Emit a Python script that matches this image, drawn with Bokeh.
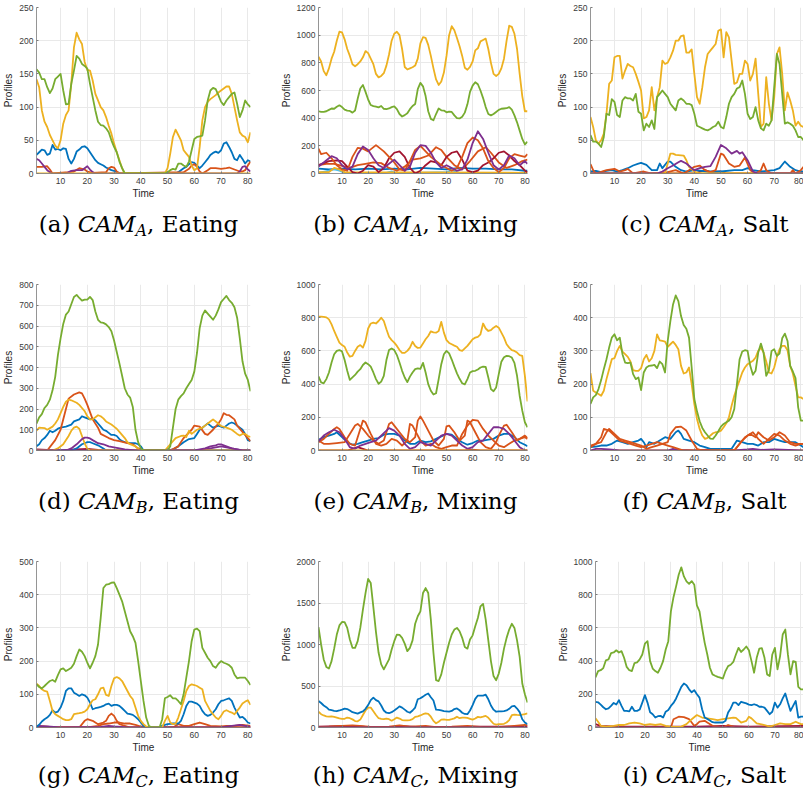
from bokeh.plotting import figure
from bokeh.layouts import column, row
from bokeh.models import Div, FixedTicker, Range1d
from bokeh.embed import file_html
from bokeh.resources import INLINE

# ---------------- colours (MATLAB default order) ----------------
BLUE = "#0072BD"
ORANGE = "#D95319"
YELLOW = "#EDB120"
PURPLE = "#7E2F8E"
GREEN = "#77AC30"
CYAN = "#4DBEEE"
DRED = "#A2142F"

# ---------------- shared axis data ----------------
T = list(range(1, 82))
ZERO_X = [1, 81]
ZERO_Y = [0, 0]
X_TICKS = [10, 20, 30, 40, 50, 60, 70, 80]

# ---------------- (a) CAM_A, Eating ----------------
A_YTICKS = [0, 50, 100, 150, 200, 250]
A_GREEN = [157, 152, 142, 142, 130, 121, 128, 142, 146, 150,
           125, 104, 105, 135, 155, 177, 173, 165, 162, 158,
           135, 115, 95, 78, 73, 72, 68, 62, 50, 40,
           32, 18, 8, 0, 0, 0, 0, 0, 0, 0,
           0, 0, 0, 0, 0, 0, 0, 0, 0, 2,
           5, 7, 6, 15, 15, 12, 10, 18, 35, 52,
           55, 56, 57, 80, 110, 125, 129, 127, 118, 108,
           103, 110, 115, 120, 122, 105, 85, 95, 110, 104,
           100]
A_YELLOW = [142, 130, 95, 78, 70, 58, 50, 42, 38, 50,
            75, 88, 95, 135, 190, 212, 202, 195, 168, 156,
            155, 140, 120, 110, 100, 95, 85, 72, 60, 45,
            32, 20, 8, 0, 0, 0, 0, 0, 0, 0,
            0, 0, 0, 0, 0, 0, 0, 0, 0, 8,
            30, 55, 66, 58, 50, 35, 30, 25, 12, 5,
            8, 40, 80, 100, 108, 112, 115, 118, 122, 125,
            128, 131, 131, 120, 100, 80, 62, 57, 55, 47,
            62]
A_BLUE = [28, 32, 36, 35, 28, 30, 43, 36, 37, 35,
          38, 37, 22, 15, 22, 33, 36, 40, 41, 38,
          32, 26, 20, 16, 14, 12, 9, 7, 5, 4,
          2, 1, 0, 0, 0, 0, 0, 0, 0, 0,
          0, 0, 0, 0, 0, 0, 0, 0, 0, 0,
          0, 0, 0, 2, 5, 8, 10, 14, 17, 16,
          12, 8, 12, 17, 22, 28, 31, 33, 31, 35,
          45, 47, 40, 32, 22, 20, 28, 22, 15, 20,
          18]
A_ORANGE_X = [1, 3, 5, 6, 7, 13, 15, 17, 18, 19, 20, 22, 27, 28, 29, 30, 31, 32, 56, 58,
              59, 60, 61, 62, 63, 65, 66, 68, 70, 72, 73, 75, 77, 78, 79, 80, 81]
A_ORANGE_Y = [10, 10, 11, 6, 0, 2, 3, 8, 7, 6, 3, 1, 2, 8, 10, 9, 3, 0, 2, 7,
              12, 14, 10, 3, 0, 5, 8, 8, 7, 8, 9, 6, 3, 3, 5, 12, 18]
A_PURPLE_X = [1, 2, 3, 4, 5, 6, 7, 12, 14, 16, 18, 19, 20, 21, 22, 23, 76, 77, 78, 79, 80, 81]
A_PURPLE_Y = [22, 20, 15, 10, 5, 2, 0, 0, 4, 5, 5, 8, 11, 6, 2, 0, 0, 3, 10, 11, 6, 3]

# ---------------- (b) CAM_A, Mixing ----------------
B_YTICKS = [0, 200, 400, 600, 800, 1000, 1200]
B_YELLOW = [845, 810, 740, 710, 760, 830, 880, 960, 1025, 1020,
            970, 900, 850, 790, 775, 790, 810, 840, 885, 870,
            830, 790, 720, 695, 705, 725, 780, 860, 960, 1010,
            1025, 1000, 900, 770, 752, 760, 768, 780, 830, 940,
            985, 980, 930, 850, 760, 680, 640, 665, 730, 850,
            1000, 1065, 1035, 980, 920, 850, 765, 750, 770, 810,
            890, 905, 955, 965, 975, 900, 800, 720, 705, 720,
            760, 830, 960, 1068, 1060, 1010, 900, 720, 560, 450,
            450]
B_GREEN = [450, 445, 446, 450, 460, 470, 468, 482, 493, 480,
           462, 455, 452, 440, 455, 540, 615, 640, 590, 535,
           495, 487, 483, 478, 488, 468, 466, 470, 480, 485,
           465, 430, 412, 422, 435, 465, 488, 502, 610, 655,
           630, 560, 450, 395, 385, 430, 470, 457, 455, 442,
           448, 445, 420, 400, 398, 410, 440, 500, 590, 635,
           660, 645, 600, 545, 480, 430, 420, 430, 445, 460,
           468, 470, 472, 480, 462, 420, 370, 310, 250, 210,
           230]
B_PURPLE_X = [1, 3, 5, 6, 8, 10, 12, 14, 16, 18, 20, 22, 24, 26, 28, 30, 32, 34, 36, 38,
              40, 42, 44, 46, 48, 50, 52, 54, 56, 58, 60, 62, 64, 66, 68, 70, 72, 74, 76, 78,
              80, 81]
B_PURPLE_Y = [50, 80, 110, 125, 110, 60, 30, 50, 140, 195, 170, 110, 60, 40, 70, 100, 60, 20, 50, 150,
              205, 200, 150, 80, 40, 60, 40, 20, 30, 100, 220, 305, 250, 150, 60, 30, 60, 130, 110, 60,
              90, 70]
B_DRED_X = [1, 3, 5, 8, 10, 12, 14, 16, 18, 20, 22, 24, 26, 28, 30, 32, 34, 36, 38, 40,
            42, 44, 46, 48, 50, 52, 54, 56, 58, 60, 62, 64, 66, 68, 70, 72, 74, 76, 78, 80, 81]
B_DRED_Y = [60, 75, 90, 95, 90, 50, 10, 0, 20, 60, 50, 10, 40, 110, 150, 160, 120, 40, 0, 20,
            60, 90, 80, 60, 120, 150, 160, 100, 20, 10, 20, 60, 80, 110, 150, 160, 130, 90, 60, 20, 10]
B_ORANGE1_X = [1, 2, 4, 6, 8, 10, 12, 14, 16, 18, 20, 23, 26, 28, 30, 32, 34, 36, 38, 40,
               42, 44, 46, 48, 50, 52, 54, 56, 58, 60, 62, 64, 66, 68, 70, 72, 74, 76, 78, 80, 81]
B_ORANGE1_Y = [180, 140, 150, 110, 60, 30, 20, 120, 185, 180, 160, 205, 160, 120, 80, 30, 20, 90, 170, 200,
               160, 120, 90, 60, 40, 20, 40, 120, 220, 260, 240, 180, 90, 40, 10, 40, 110, 140, 130, 120, 140]
B_ORANGE2_X = [1, 4, 7, 10, 13, 16, 19, 22, 25, 28, 31, 34, 37, 40, 43, 46, 48, 50, 53, 56,
               59, 62, 65, 67, 70, 73, 76, 79, 81]
B_ORANGE2_Y = [60, 70, 70, 55, 40, 60, 70, 80, 75, 40, 20, 50, 100, 110, 130, 190, 170, 120, 60, 30,
               90, 160, 190, 150, 80, 40, 60, 90, 100]
B_BLUE_X = [1, 5, 10, 15, 20, 25, 30, 35, 40, 45, 50, 55, 60, 65, 70, 75, 80, 81]
B_BLUE_Y = [35, 30, 35, 30, 35, 30, 35, 30, 40, 35, 30, 40, 35, 35, 30, 30, 20, 20]
B_CYAN_X = [1, 5, 7, 9, 11, 26, 29, 31, 50, 52, 54, 56, 60, 81]
B_CYAN_Y = [5, 20, 30, 20, 5, 0, 15, 0, 10, 25, 10, 0, 5, 0]
B_YELLOW2_X = [1, 5, 7, 9, 11, 81]
B_YELLOW2_Y = [10, 10, 40, 30, 10, 5]

# ---------------- (c) CAM_A, Salt ----------------
C_YTICKS = [0, 50, 100, 150, 200, 250]
C_YELLOW = [85, 70, 50, 45, 50, 60, 90, 135, 140, 175,
            177, 177, 143, 155, 165, 162, 160, 150, 138, 125,
            83, 85, 95, 130, 95, 115, 130, 170, 165, 167,
            175, 185, 200, 200, 207, 208, 182, 182, 187, 150,
            115, 105, 130, 160, 180, 185, 190, 195, 215, 217,
            175, 213, 205, 170, 135, 137, 150, 150, 170, 165,
            140, 150, 173, 120, 70, 75, 145, 105, 80, 115,
            180, 190, 150, 95, 122, 110, 95, 72, 78, 72,
            70]
C_GREEN = [58, 48, 48, 45, 40, 55, 90, 88, 112, 108,
           88, 85, 110, 115, 113, 113, 110, 120, 93, 90,
           65, 75, 70, 80, 67, 115, 120, 125, 120, 115,
           105, 100, 95, 110, 113, 110, 105, 105, 103, 90,
           72, 70, 68, 66, 65, 67, 70, 72, 78, 70,
           68, 85, 105, 115, 120, 128, 130, 140, 120, 90,
           82, 85, 100, 80, 68, 65, 75, 72, 80, 130,
           180, 165, 120, 75, 77, 75, 72, 65, 55, 55,
           50]
C_PURPLE_X = [1, 26, 28, 30, 32, 34, 35, 37, 39, 40, 42, 44, 46, 48, 50, 52, 54, 56, 57, 58,
              60, 62, 64, 81]
C_PURPLE_Y = [0, 0, 3, 8, 12, 17, 19, 15, 8, 5, 8, 10, 11, 25, 43, 38, 30, 34, 30, 32,
              20, 3, 0, 0]
C_BLUE_X = [1, 3, 5, 7, 9, 11, 13, 15, 17, 19, 20, 22, 24, 26, 27, 28, 30, 31, 33, 35,
            37, 40, 45, 50, 55, 58, 60, 62, 65, 70, 72, 74, 76, 78, 80, 81]
C_BLUE_Y = [3, 4, 2, 4, 5, 3, 5, 8, 12, 15, 16, 13, 5, 5, 15, 8, 18, 18, 10, 5,
            3, 5, 3, 3, 5, 5, 8, 5, 3, 5, 8, 18, 10, 5, 3, 3]
C_YELLOW2_X = [1, 29, 30, 31, 32, 33, 36, 37, 38, 40, 42, 81]
C_YELLOW2_Y = [0, 0, 15, 30, 30, 28, 27, 20, 10, 3, 0, 0]
C_ORANGE_X = [1, 2, 3, 7, 10, 12, 14, 15, 17, 21, 24, 30, 33, 36, 38, 40, 42, 44, 46, 48,
              50, 51, 53, 55, 57, 59, 61, 63, 65, 66, 67, 69, 76, 77, 78, 80, 81]
C_ORANGE_Y = [14, 5, 0, 5, 7, 3, 5, 7, 0, 3, 0, 2, 5, 0, 5, 10, 12, 5, 2, 5,
              30, 28, 15, 10, 12, 24, 5, 0, 5, 15, 5, 0, 0, 5, 0, 5, 10]
C_DRED_X = [1, 40, 44, 46, 50, 52, 81]
C_DRED_Y = [0, 0, 5, 2, 3, 0, 0]

# ---------------- (d) CAM_B, Eating ----------------
D_YTICKS = [0, 100, 200, 300, 400, 500, 600, 700, 800]
D_GREEN = [130, 160, 175, 205, 220, 245, 290, 355, 460, 540,
           610, 655, 670, 705, 740, 750, 735, 722, 727, 727,
           740, 725, 670, 630, 617, 615, 608, 595, 575, 530,
           475, 420, 360, 300, 270, 255, 210, 100, 40, 10,
           0, 0, 0, 0, 0, 0, 0, 0, 0, 0,
           20, 110, 200, 245, 262, 275, 300, 320, 340, 380,
           470, 590, 650, 675, 660, 645, 630, 650, 680, 715,
           730, 745, 725, 712, 690, 640, 540, 430, 370, 340,
           285]
D_ORANGE_X = [1, 5, 8, 10, 12, 13, 15, 17, 18, 19, 20, 21, 22, 24, 25, 28, 30, 32, 35, 37,
              38, 39, 40, 41, 51, 54, 56, 59, 60, 61, 62, 64, 65, 67, 69, 70, 71, 72, 73, 75,
              76, 78, 80, 81]
D_ORANGE_Y = [0, 0, 50, 100, 200, 250, 270, 280, 275, 250, 220, 185, 150, 110, 80, 60, 50, 45, 35, 30,
              20, 10, 5, 0, 0, 20, 60, 100, 120, 118, 115, 80, 75, 100, 130, 150, 180, 172, 170, 150,
              120, 90, 60, 45]
D_YELLOW_X = [1, 2, 4, 5, 7, 8, 9, 10, 11, 12, 13, 14, 16, 17, 18, 19, 20, 21, 22, 24,
              25, 26, 27, 29, 30, 31, 32, 34, 35, 36, 38, 39, 40, 49, 51, 53, 55, 56, 57, 58,
              59, 61, 63, 64, 66, 67, 68, 70, 72, 73, 74, 76, 77, 78, 79, 80, 81]
D_YELLOW_Y = [95, 110, 108, 100, 115, 130, 150, 180, 210, 235, 245, 242, 230, 220, 205, 190, 165, 150, 150, 170,
              165, 155, 140, 125, 115, 105, 90, 60, 40, 30, 20, 8, 0, 0, 30, 60, 70, 72, 65, 95,
              80, 100, 110, 120, 140, 150, 140, 118, 110, 105, 100, 80, 72, 80, 80, 70, 65]
D_YELLOW2_X = [1, 7, 9, 11, 13, 14, 15, 16, 17, 18, 19, 20, 21, 81]
D_YELLOW2_Y = [0, 0, 10, 30, 70, 95, 110, 115, 105, 70, 35, 8, 0, 0]
D_BLUE_X = [1, 2, 3, 4, 5, 6, 7, 8, 9, 10, 12, 14, 15, 16, 17, 18, 19, 20, 21, 22,
            23, 24, 25, 26, 27, 28, 29, 30, 31, 32, 33, 34, 36, 38, 39, 40, 41, 50, 52, 54,
            56, 58, 60, 61, 62, 63, 64, 65, 66, 67, 68, 69, 70, 71, 72, 73, 74, 75, 76, 77,
            78, 79, 80, 81]
D_BLUE_Y = [20, 30, 50, 60, 75, 95, 88, 95, 105, 110, 115, 125, 140, 145, 150, 165, 160, 155, 150, 155,
            145, 130, 115, 100, 95, 85, 75, 75, 70, 55, 45, 40, 35, 35, 30, 20, 0, 0, 5, 20,
            40, 55, 60, 80, 100, 110, 120, 130, 120, 110, 115, 120, 115, 110, 120, 130, 135, 130, 120, 110,
            100, 80, 50, 45]
D_BLUE2_X = [1, 14, 16, 18, 19, 20, 21, 22, 24, 26, 27, 81]
D_BLUE2_Y = [0, 0, 10, 30, 35, 40, 40, 35, 25, 10, 0, 0]
D_PURPLE_X = [1, 12, 14, 16, 18, 19, 20, 21, 22, 24, 26, 28, 30, 32, 34, 36, 38, 60, 62, 64,
              66, 68, 69, 70, 71, 72, 74, 76, 78, 81]
D_PURPLE_Y = [0, 0, 10, 30, 55, 62, 62, 58, 50, 35, 30, 20, 15, 10, 5, 3, 0, 0, 5, 10,
              20, 25, 30, 30, 25, 20, 10, 5, 0, 0]
D_PURPLE2_X = [1, 62, 66, 70, 72, 76, 78, 81]
D_PURPLE2_Y = [0, 0, 10, 20, 15, 5, 0, 0]
D_DRED_X = [1, 5, 10, 16, 20, 24, 28, 81]
D_DRED_Y = [5, 3, 0, 5, 8, 3, 0, 0]

# ---------------- (e) CAM_B, Mixing ----------------
E_YTICKS = [0, 200, 400, 600, 800, 1000]
E_YELLOW = [807, 806, 805, 802, 790, 760, 720, 685, 650, 635,
            625, 590, 565, 570, 600, 625, 635, 620, 660, 735,
            765, 770, 765, 780, 800, 780, 730, 685, 665, 650,
            630, 605, 588, 588, 600, 620, 655, 630, 618, 620,
            645, 670, 690, 718, 712, 710, 720, 775, 710, 665,
            648, 640, 632, 625, 605, 600, 615, 630, 650, 670,
            680, 685, 700, 765, 735, 720, 725, 740, 750, 740,
            710, 680, 640, 620, 605, 600, 590, 575, 570, 450,
            295]
E_GREEN = [446, 410, 405, 430, 470, 530, 580, 600, 605, 597,
           545, 480, 425, 440, 455, 475, 490, 515, 530, 520,
           505, 470, 430, 402, 415, 450, 545, 605, 615, 605,
           575, 530, 480, 440, 412, 445, 470, 490, 495, 492,
           528, 470, 400, 360, 337, 345, 430, 520, 580, 600,
           585, 548, 505, 465, 432, 405, 398, 430, 470, 478,
           480, 488, 500, 505, 503, 440, 370, 357, 380, 460,
           535, 562, 570, 568, 560, 528, 450, 330, 240, 170,
           140]
E_ORANGE1_X = [1, 3, 5, 8, 11, 13, 15, 16, 18, 20, 22, 24, 26, 27, 28, 29, 30, 32, 34, 36,
               38, 39, 40, 41, 43, 45, 47, 49, 50, 51, 53, 55, 57, 58, 59, 61, 63, 65, 67, 69,
               70, 72, 73, 75, 77, 79, 80, 81]
E_ORANGE1_Y = [60, 40, 40, 45, 50, 100, 150, 160, 130, 90, 60, 40, 60, 110, 160, 170, 150, 110, 70, 50,
               80, 180, 205, 180, 120, 60, 30, 70, 145, 150, 110, 60, 90, 180, 170, 110, 50, 20, 10, 50,
               90, 150, 155, 110, 60, 80, 90, 75]
E_ORANGE2_X = [1, 3, 5, 7, 8, 9, 11, 13, 15, 17, 18, 19, 21, 23, 25, 27, 29, 31, 33, 35,
               36, 37, 38, 40, 42, 44, 46, 48, 50, 52, 54, 56, 58, 60, 62, 64, 66, 68, 70, 72,
               74, 76, 78, 80, 81]
E_ORANGE2_Y = [50, 70, 100, 130, 140, 130, 80, 40, 30, 130, 180, 170, 100, 40, 30, 40, 70, 60, 30, 60,
               160, 150, 120, 60, 30, 40, 20, 10, 20, 30, 30, 100, 150, 185, 180, 130, 90, 60, 30, 20,
               40, 60, 70, 80, 70]
E_BLUE_X = [1, 3, 5, 7, 8, 10, 12, 14, 16, 18, 20, 22, 24, 26, 28, 30, 32, 34, 36, 38,
            40, 42, 44, 46, 48, 50, 52, 54, 56, 58, 60, 62, 64, 66, 68, 70, 72, 74, 76, 78,
            80, 81]
E_BLUE_Y = [65, 80, 90, 100, 110, 80, 50, 35, 40, 50, 60, 70, 75, 95, 100, 100, 90, 60, 40, 40,
            60, 50, 55, 70, 85, 100, 95, 70, 50, 35, 45, 60, 60, 65, 70, 90, 100, 100, 80, 50,
            35, 25]
E_PURPLE_X = [1, 3, 5, 7, 9, 11, 13, 15, 17, 19, 21, 23, 25, 27, 28, 30, 32, 34, 36, 38,
              40, 42, 44, 46, 48, 50, 52, 54, 56, 58, 60, 62, 64, 66, 68, 70, 72, 74, 76, 78,
              80, 81]
E_PURPLE_Y = [55, 90, 110, 125, 110, 70, 20, 10, 30, 40, 50, 60, 90, 120, 135, 120, 90, 40, 10, 20,
              50, 40, 30, 60, 90, 100, 90, 60, 30, 10, 20, 50, 60, 100, 140, 140, 130, 100, 60, 20,
              0, 0]
E_DRED_X = [1, 12, 14, 16, 18, 20, 57, 59, 61, 63, 81]
E_DRED_Y = [0, 0, 10, 20, 10, 0, 0, 5, 3, 0, 0]

# ---------------- (f) CAM_B, Salt ----------------
F_YTICKS = [0, 100, 200, 300, 400, 500]
F_GREEN = [140, 160, 167, 185, 212, 245, 275, 310, 340, 350,
           332, 340, 290, 265, 263, 265, 230, 215, 220, 182,
           235, 250, 255, 256, 258, 248, 268, 260, 235, 330,
           390, 440, 467, 450, 405, 378, 367, 340, 250, 155,
           118, 88, 68, 55, 45, 36, 35, 45, 58, 72,
           80, 85, 90, 100, 125, 200, 275, 298, 302, 300,
           255, 228, 240, 295, 322, 295, 225, 242, 300, 305,
           285, 292, 338, 352, 330, 255, 238, 218, 130, 90,
           90]
F_YELLOW = [233, 180, 175, 170, 165, 180, 215, 245, 275, 278,
            300, 315, 298, 290, 282, 268, 242, 240, 240, 248,
            275, 288, 268, 278, 300, 350, 332, 330, 328, 312,
            320, 328, 318, 305, 255, 232, 235, 250, 200, 140,
            95, 65, 45, 35, 38, 45, 52, 55, 56, 60,
            70, 82, 100, 135, 165, 190, 212, 235, 250, 260,
            265, 270, 280, 300, 310, 295, 268, 235, 232, 250,
            282, 305, 315, 315, 302, 255, 232, 195, 160, 160,
            155]
F_ORANGE1_X = [1, 3, 5, 7, 8, 10, 12, 14, 16, 18, 20, 22, 24, 26, 28, 30, 31, 33, 35, 37,
               39, 41, 43, 55, 57, 59, 61, 63, 64, 66, 68, 70, 72, 74, 76, 78, 80, 81]
F_ORANGE1_Y = [10, 20, 25, 55, 65, 50, 35, 30, 25, 20, 15, 5, 10, 15, 20, 25, 50, 70, 72, 60,
               30, 5, 0, 0, 20, 40, 50, 40, 55, 40, 30, 40, 55, 45, 25, 20, 20, 20]
F_ORANGE2_X = [1, 3, 5, 6, 8, 10, 12, 14, 16, 18, 20, 22, 24, 26, 28, 30, 32, 34, 36, 55,
               58, 60, 62, 64, 66, 68, 70, 72, 74, 76, 78, 80, 81]
F_ORANGE2_Y = [15, 20, 40, 65, 60, 45, 30, 25, 20, 15, 10, 15, 20, 25, 20, 15, 10, 5, 0, 0,
               30, 45, 55, 35, 20, 35, 50, 45, 30, 20, 15, 20, 20]
F_BLUE_X = [1, 3, 5, 7, 9, 11, 13, 15, 17, 19, 20, 21, 22, 23, 25, 27, 29, 31, 33, 34,
            35, 36, 38, 40, 42, 44, 46, 48, 50, 52, 54, 56, 58, 60, 62, 64, 66, 68, 70, 72,
            74, 76, 78, 80, 81]
F_BLUE_Y = [10, 12, 15, 15, 20, 30, 25, 20, 25, 30, 35, 25, 10, 25, 20, 30, 40, 35, 55, 60,
            50, 35, 30, 25, 15, 10, 5, 5, 5, 5, 5, 30, 25, 20, 20, 15, 25, 25, 35, 30,
            25, 25, 25, 15, 10]
F_PURPLE_X = [1, 3, 5, 8, 12, 30, 32, 34, 40, 50, 52, 55, 60, 62, 65, 70, 81]
F_PURPLE_Y = [0, 5, 5, 3, 0, 0, 5, 2, 0, 5, 3, 0, 3, 5, 2, 3, 0]

# ---------------- (g) CAM_C, Eating ----------------
G_YTICKS = [0, 100, 200, 300, 400, 500]
G_GREEN = [130, 122, 118, 125, 133, 140, 143, 138, 158, 175,
           178, 170, 175, 180, 192, 215, 235, 228, 215, 195,
           178, 195, 215, 250, 330, 420, 430, 432, 436, 437,
           420, 400, 380, 350, 320, 290, 275, 255, 200, 140,
           80, 30, 5, 0, 0, 0, 0, 25, 88, 92,
           97, 88, 88, 80, 70, 100, 150, 200, 260, 295,
           298, 290, 240, 225, 210, 200, 185, 180, 192, 200,
           195, 192, 188, 180, 160, 148, 150, 150, 150, 140,
           128]
G_YELLOW = [132, 125, 115, 110, 108, 80, 50, 40, 35, 30,
            25, 22, 22, 25, 40, 42, 43, 45, 48, 55,
            70, 82, 85, 100, 118, 120, 98, 95, 125, 148,
            152, 148, 140, 125, 110, 95, 85, 60, 35, 20,
            10, 3, 0, 0, 0, 0, 0, 0, 20, 35,
            15, 10, 12, 30, 55, 80, 110, 125, 130, 128,
            125, 120, 115, 80, 65, 50, 40, 30, 25, 35,
            48, 52, 48, 45, 40, 50, 60, 72, 78, 82,
            68]
G_BLUE = [2, 8, 18, 25, 30, 38, 52, 45, 48, 60,
          80, 110, 118, 118, 105, 100, 95, 100, 97, 90,
          75, 55, 58, 60, 62, 65, 70, 72, 65, 68,
          68, 65, 58, 50, 42, 40, 38, 32, 25, 15,
          5, 0, 0, 0, 0, 0, 0, 5, 8, 10,
          11, 12, 12, 12, 20, 40, 65, 78, 78, 75,
          72, 65, 50, 40, 35, 38, 45, 55, 70, 80,
          82, 85, 88, 80, 60, 45, 30, 32, 25, 15,
          12]
G_ORANGE1_X = [1, 4, 8, 17, 19, 20, 22, 24, 26, 27, 28, 29, 30, 31, 32, 34, 36, 52, 54, 56,
               58, 60, 62, 64, 66, 70, 72, 75, 78, 81]
G_ORANGE1_Y = [5, 3, 0, 0, 20, 25, 20, 10, 15, 20, 35, 42, 35, 20, 10, 5, 0, 0, 10, 5,
               5, 10, 15, 10, 5, 3, 5, 5, 8, 5]
G_ORANGE2_X = [1, 20, 24, 26, 28, 30, 32, 34, 36, 38, 40, 42, 81]
G_ORANGE2_Y = [0, 0, 5, 10, 12, 15, 15, 12, 12, 8, 3, 0, 0]
G_PURPLE_X = [1, 5, 10, 25, 28, 30, 35, 70, 74, 77, 79, 81]
G_PURPLE_Y = [5, 3, 0, 2, 5, 3, 0, 0, 5, 8, 5, 2]

# ---------------- (h) CAM_C, Mixing ----------------
H_YTICKS = [0, 500, 1000, 1500, 2000]
H_GREEN = [1209, 1000, 820, 730, 710, 800, 950, 1120, 1230, 1272,
           1270, 1200, 1060, 960, 960, 1040, 1200, 1420, 1620, 1790,
           1740, 1450, 1150, 900, 760, 700, 760, 820, 940, 1040,
           1120, 1115, 1080, 1010, 920, 960, 1050, 1250, 1340, 1400,
           1620, 1680, 1620, 1300, 900, 570, 560, 640, 780, 900,
           1020, 1120, 1180, 1200, 1160, 1080, 970, 950, 1060, 1110,
           1220, 1320, 1460, 1490, 1300, 1050, 800, 620, 570, 650,
           780, 950, 1080, 1180, 1250, 1200, 1050, 850, 530, 400,
           300]
H_BLUE = [320, 295, 265, 245, 215, 208, 200, 196, 205, 215,
          228, 222, 205, 185, 177, 168, 182, 195, 225, 270,
          330, 360, 330, 315, 265, 205, 178, 172, 185, 205,
          228, 255, 240, 215, 190, 178, 205, 240, 340, 352,
          372, 395, 410, 365, 325, 215, 212, 205, 198, 195,
          192, 200, 222, 230, 208, 178, 163, 160, 205, 270,
          345, 385, 385, 385, 395, 340, 265, 215, 190, 195,
          195, 197, 205, 225, 255, 260, 228, 185, 100, 60,
          40]
H_YELLOW = [190, 160, 145, 135, 130, 133, 128, 120, 110, 105,
            105, 120, 112, 98, 78, 75, 95, 150, 205, 240,
            240, 195, 150, 112, 105, 100, 108, 100, 82, 100,
            120, 108, 90, 86, 85, 90, 100, 128, 135, 145,
            160, 170, 165, 130, 80, 50, 70, 95, 98, 92,
            92, 100, 110, 130, 112, 118, 120, 115, 105, 95,
            108, 128, 122, 130, 140, 118, 80, 45, 35, 40,
            40, 45, 60, 90, 148, 155, 152, 150, 155, 160,
            170]
H_ORANGE_X = [1, 5, 10, 14, 18, 22, 28, 32, 36, 42, 46, 52, 58, 64, 70, 76, 80, 81]
H_ORANGE_Y = [5, 10, 20, 25, 15, 5, 10, 25, 10, 20, 5, 10, 20, 5, 5, 20, 30, 25]
H_DRED_X = [1, 8, 12, 16, 20, 30, 33, 40, 50, 60, 75, 78, 81]
H_DRED_Y = [10, 15, 20, 15, 5, 5, 15, 5, 5, 10, 10, 20, 15]

# ---------------- (i) CAM_C, Salt ----------------
I_YTICKS = [0, 200, 400, 600, 800, 1000]
I_GREEN = [301, 340, 345, 358, 405, 410, 448, 452, 465, 452,
           460, 420, 365, 345, 340, 388, 392, 410, 440, 505,
           520, 400, 355, 340, 330, 360, 400, 470, 520, 700,
           785, 850, 920, 965, 910, 880, 865, 882, 860, 735,
           700, 600, 510, 440, 360, 320, 312, 305, 300, 295,
           340, 370, 378, 395, 440, 480, 455, 470, 488, 465,
           400, 330, 420, 475, 478, 420, 320, 310, 440, 480,
           350, 430, 560, 590, 440, 320, 400, 395, 245, 230,
           230]
I_BLUE = [155, 152, 138, 122, 110, 115, 130, 148, 138, 165,
          130, 100, 100, 97, 125, 100, 100, 108, 150, 195,
          150, 92, 80, 60, 68, 70, 60, 95, 105, 130,
          148, 175, 210, 245, 265, 255, 230, 212, 225, 200,
          180, 110, 60, 52, 42, 32, 30, 30, 30, 30,
          40, 90, 115, 150, 150, 135, 155, 150, 145, 138,
          135, 140, 135, 125, 125, 120, 100, 80, 95, 150,
          120, 140, 175, 205, 150, 100, 130, 160, 60, 65,
          65]
I_YELLOW_X = [1, 2, 3, 5, 8, 10, 12, 14, 16, 18, 20, 22, 24, 26, 28, 30, 32, 34, 36, 38,
              40, 42, 44, 46, 48, 50, 52, 54, 55, 57, 59, 60, 61, 63, 66, 68, 70, 72, 74, 76,
              78, 80, 81]
I_YELLOW_Y = [55, 35, 10, 5, 10, 15, 15, 25, 30, 25, 15, 20, 15, 20, 10, 5, 3, 5, 20, 50,
              75, 60, 55, 50, 45, 50, 55, 60, 58, 30, 40, 65, 55, 25, 15, 5, 15, 25, 20, 20,
              35, 20, 20]
I_ORANGE_X = [1, 30, 31, 33, 35, 37, 38, 39, 40, 41, 43, 44, 46, 48, 50, 52, 53, 55, 81]
I_ORANGE_Y = [0, 0, 50, 65, 62, 50, 30, 10, 20, 35, 40, 30, 10, 5, 0, 15, 10, 0, 0]
I_DRED_X = [1, 3, 10, 40, 50, 60, 81]
I_DRED_Y = [20, 10, 5, 5, 10, 5, 10]

# ---------------- captions ----------------
CAPTIONS = [("a", "A", "Eating"), ("b", "A", "Mixing"), ("c", "A", "Salt"),
            ("d", "B", "Eating"), ("e", "B", "Mixing"), ("f", "B", "Salt"),
            ("g", "C", "Eating"), ("h", "C", "Mixing"), ("i", "C", "Salt")]

PANELS = [
    (A_YTICKS, [(BLUE, T, A_BLUE), (ORANGE, A_ORANGE_X, A_ORANGE_Y), (PURPLE, A_PURPLE_X, A_PURPLE_Y),
                (YELLOW, ZERO_X, ZERO_Y), (YELLOW, T, A_YELLOW), (GREEN, T, A_GREEN)]),
    (B_YTICKS, [(BLUE, B_BLUE_X, B_BLUE_Y), (CYAN, B_CYAN_X, B_CYAN_Y), (YELLOW, B_YELLOW2_X, B_YELLOW2_Y),
                (ORANGE, B_ORANGE2_X, B_ORANGE2_Y), (DRED, B_DRED_X, B_DRED_Y),
                (ORANGE, B_ORANGE1_X, B_ORANGE1_Y), (PURPLE, B_PURPLE_X, B_PURPLE_Y),
                (YELLOW, T, B_YELLOW), (GREEN, T, B_GREEN)]),
    (C_YTICKS, [(DRED, C_DRED_X, C_DRED_Y), (YELLOW, ZERO_X, ZERO_Y), (BLUE, C_BLUE_X, C_BLUE_Y),
                (ORANGE, C_ORANGE_X, C_ORANGE_Y), (YELLOW, C_YELLOW2_X, C_YELLOW2_Y),
                (PURPLE, C_PURPLE_X, C_PURPLE_Y), (YELLOW, T, C_YELLOW), (GREEN, T, C_GREEN)]),
    (D_YTICKS, [(DRED, D_DRED_X, D_DRED_Y), (BLUE, D_BLUE2_X, D_BLUE2_Y), (PURPLE, D_PURPLE2_X, D_PURPLE2_Y),
                (BLUE, D_BLUE_X, D_BLUE_Y), (ORANGE, D_ORANGE_X, D_ORANGE_Y),
                (YELLOW, D_YELLOW2_X, D_YELLOW2_Y), (YELLOW, D_YELLOW_X, D_YELLOW_Y),
                (PURPLE, D_PURPLE_X, D_PURPLE_Y), (GREEN, T, D_GREEN)]),
    (E_YTICKS, [(DRED, E_DRED_X, E_DRED_Y), (BLUE, E_BLUE_X, E_BLUE_Y), (ORANGE, E_ORANGE1_X, E_ORANGE1_Y),
                (ORANGE, E_ORANGE2_X, E_ORANGE2_Y), (PURPLE, E_PURPLE_X, E_PURPLE_Y),
                (YELLOW, ZERO_X, ZERO_Y), (YELLOW, T, E_YELLOW), (GREEN, T, E_GREEN)]),
    (F_YTICKS, [(YELLOW, ZERO_X, ZERO_Y), (PURPLE, F_PURPLE_X, F_PURPLE_Y), (BLUE, F_BLUE_X, F_BLUE_Y),
                (ORANGE, F_ORANGE2_X, F_ORANGE2_Y), (ORANGE, F_ORANGE1_X, F_ORANGE1_Y),
                (YELLOW, T, F_YELLOW), (GREEN, T, F_GREEN)]),
    (G_YTICKS, [(DRED, ZERO_X, ZERO_Y), (ORANGE, G_ORANGE2_X, G_ORANGE2_Y), (ORANGE, G_ORANGE1_X, G_ORANGE1_Y),
                (PURPLE, G_PURPLE_X, G_PURPLE_Y), (BLUE, T, G_BLUE), (YELLOW, T, G_YELLOW),
                (GREEN, T, G_GREEN)]),
    (H_YTICKS, [(DRED, H_DRED_X, H_DRED_Y), (ORANGE, H_ORANGE_X, H_ORANGE_Y), (PURPLE, ZERO_X, ZERO_Y),
                (YELLOW, T, H_YELLOW), (BLUE, T, H_BLUE), (GREEN, T, H_GREEN)]),
    (I_YTICKS, [(DRED, I_DRED_X, I_DRED_Y), (ORANGE, I_ORANGE_X, I_ORANGE_Y), (PURPLE, ZERO_X, ZERO_Y),
                (YELLOW, I_YELLOW_X, I_YELLOW_Y), (BLUE, T, I_BLUE), (GREEN, T, I_GREEN)]),
]

# ---------------- layout constants ----------------
COL_W = [277, 277, 249]
RIGHT_B = [27, 27, 0]
FIG_H = 201
CAP_H = [76, 76, 36]
CAP_TOP = [10, 10, 7]
CAP_PAD = [0, 0, 52]
TICK_FONT = "Liberation Sans"


def make_panel(yticks, series, col):
    p = figure(width=COL_W[col], height=FIG_H,
               x_range=Range1d(1, 81), y_range=Range1d(yticks[0], yticks[-1]),
               output_backend="svg", toolbar_location=None,
               min_border_left=35, min_border_right=RIGHT_B[col],
               min_border_top=7, min_border_bottom=28)
    p.outline_line_color = None
    p.background_fill_color = "white"
    p.border_fill_color = "white"
    for color, xs, ys in series:
        p.line(xs, ys, line_color=color, line_width=1.8, line_join="round")
    p.xaxis.ticker = FixedTicker(ticks=X_TICKS)
    p.yaxis.ticker = FixedTicker(ticks=yticks)
    p.xaxis.axis_label = "Time"
    p.yaxis.axis_label = "Profiles"
    for ax in (p.xaxis[0], p.yaxis[0]):
        ax.axis_line_color = "#7a7a7a"
        ax.axis_line_width = 0.8
        ax.major_tick_line_color = "#7a7a7a"
        ax.major_tick_in = 2
        ax.major_tick_out = 0
        ax.minor_tick_line_color = None
        ax.major_label_text_font = TICK_FONT
        ax.major_label_text_font_size = "8.5px"
        ax.major_label_text_color = "#3a3a3a"
        ax.axis_label_text_font = TICK_FONT
        ax.axis_label_text_font_size = "10px"
        ax.axis_label_text_font_style = "normal"
        ax.axis_label_text_color = "#262626"
    p.xaxis.major_label_standoff = 4
    p.xaxis.axis_label_standoff = 1
    p.yaxis.major_label_standoff = 3
    p.yaxis.axis_label_standoff = 2
    p.xgrid.grid_line_color = "#e9e9e9"
    p.ygrid.grid_line_color = "#e9e9e9"
    return p


def make_caption(cap, col, rowi):
    lab, sub, name = cap
    html = ('<div style="box-sizing:border-box;width:%dpx;margin-top:%dpx;padding-left:%dpx;text-align:center;'
            'font-family:\'DejaVu Serif\';font-size:23px;line-height:26px;white-space:nowrap;color:#000">'
            '(%s) <i>CAM<sub style="font-size:16px;line-height:0;vertical-align:-4px">%s</sub></i>, %s</div>'
            % (COL_W[col], CAP_TOP[rowi], CAP_PAD[col], lab, sub, name))
    return Div(text=html, width=COL_W[col], height=CAP_H[rowi], margin=0)


rows = []
for r in range(3):
    figs = []
    caps = []
    for c in range(3):
        k = r * 3 + c
        yt, ser = PANELS[k]
        figs.append(make_panel(yt, ser, c))
        caps.append(make_caption(CAPTIONS[k], c, r))
    rows.append(row(*figs))
    rows.append(row(*caps))

p = column(*rows)

open("out.html", "w").write(file_html(p, INLINE))
